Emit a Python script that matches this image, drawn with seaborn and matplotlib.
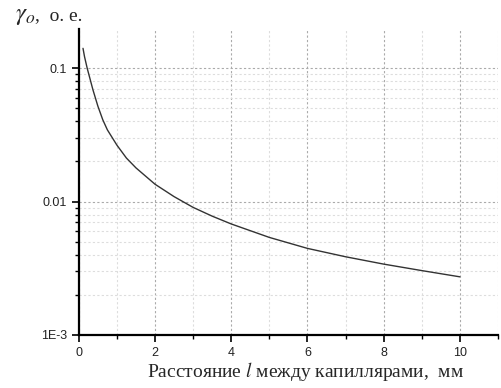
import seaborn as sns
import matplotlib.pyplot as plt
import pandas as pd
from matplotlib.ticker import MultipleLocator, LogLocator, NullFormatter

# ======================================
# DATA
# ======================================

distance = [0.11, 0.15, 0.22, 0.37, 0.5, 0.63, 0.75, 1.0, 1.25, 1.5,
            2.0, 2.5, 3.0, 3.5, 4.0, 5.0, 6.0, 7.0, 8.0, 9.0, 10.0]
gamma = [0.141, 0.122, 0.100, 0.069, 0.052, 0.041, 0.0345, 0.0265,
         0.0212, 0.0179, 0.0135, 0.0109, 0.00905, 0.00778, 0.0068,
         0.00539, 0.00446, 0.00386, 0.0034, 0.00304, 0.00273]

y_ticks = [0.001, 0.01, 0.1]
y_tick_labels = ["1E-3", "0.01", "0.1"]
x_ticks = [0, 2, 4, 6, 8, 10]

curve = pd.DataFrame({"l": distance, "gamma": gamma})

# ======================================
# STYLE
# ======================================

sns.set_style("ticks")
plt.rcParams["font.family"] = ["Liberation Sans", "DejaVu Sans"]
plt.rcParams["mathtext.fontset"] = "stix"

fig = plt.figure(figsize=(5.02, 3.88), dpi=100)
ax = fig.add_axes([0.157, 0.1366, 0.835, 0.788])

sns.lineplot(
    data=curve,
    x="l",
    y="gamma",
    color="#333333",
    linewidth=1.0,
    ax=ax
)

ax.set_yscale("log")
ax.set_xlim(0, 11)
ax.set_ylim(0.001, 0.196)

ax.set_xticks(x_ticks)
ax.set_xticklabels([str(t) for t in x_ticks])
ax.xaxis.set_minor_locator(MultipleLocator(1))

ax.set_yticks(y_ticks)
ax.set_yticklabels(y_tick_labels)
ax.yaxis.set_minor_locator(LogLocator(base=10, subs=range(2, 10)))
ax.yaxis.set_minor_formatter(NullFormatter())

ax.tick_params(which="major", direction="out", length=5, width=1.2,
               labelsize=9, colors="black", labelcolor="#222222")
ax.tick_params(which="minor", direction="out", length=3, width=1.0,
               colors="black")

ax.grid(which="major", color="#aaaaaa", linestyle=(0, (2, 2)), linewidth=0.8)
ax.grid(which="minor", color="#dddddd", linestyle=(0, (2, 2)), linewidth=0.8)

for side in ["top", "right"]:
    ax.spines[side].set_visible(False)
for side in ["left", "bottom"]:
    ax.spines[side].set_linewidth(1.6)
    ax.spines[side].set_color("black")

ax.set_xlabel("")
ax.set_ylabel("")

# x axis title
fig.text(
    0.608, 0.028,
    "Расстояние $\\it{l}$ между капиллярами,  мм",
    family="Liberation Serif",
    fontsize=14,
    ha="center",
    va="baseline"
)

# y axis title (top left, horizontal)
fig.text(
    0.030, 0.948,
    "$\\gamma_o$",
    fontsize=18,
    ha="left",
    va="baseline"
)
fig.text(
    0.069, 0.948,
    ",  о. е.",
    family="Liberation Serif",
    fontsize=14,
    ha="left",
    va="baseline"
)

plt.savefig("out.png", dpi=100)
plt.close()
